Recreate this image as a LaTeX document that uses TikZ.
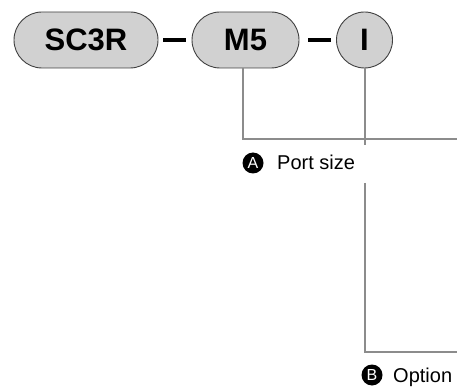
\documentclass[tikz,border=0pt]{standalone}
\usepackage{fontspec}
\setmainfont{Liberation Sans}
\begin{document}
\begin{tikzpicture}[x=1pt,y=-1pt,
  pill/.style={draw=black!75, line width=0.9pt, fill=black!18, rounded corners=28pt, minimum height=56pt, inner sep=0pt, font=\fontsize{31}{31}\selectfont\bfseries},
  ball/.style={draw=black!75, line width=0.9pt, fill=black!18, circle, minimum size=56pt, inner sep=0pt, font=\fontsize{31}{31}\selectfont\bfseries},
  dashbar/.style={line width=4pt, black},
  lead/.style={draw=black!45, line width=2.2pt},
  badge/.style={circle, fill=black, text=white, minimum size=21pt, inner sep=0pt, font=\fontsize{16}{16}\selectfont},
  lbl/.style={anchor=base west, inner sep=0pt, font=\fontsize{20}{20}\selectfont}]
\useasboundingbox (0,0) rectangle (457,387);
\node[pill, minimum width=144pt] (sc) at (86,40) {SC3R};
\node[pill, minimum width=107pt] (m5) at (245.5,40) {M5};
\node[ball] (opt) at (364.5,40) {I};
\draw[dashbar] ([xshift=5pt]sc.east) -- ([xshift=-6pt]m5.west);
\draw[dashbar] ([xshift=9pt]m5.east) -- ([xshift=-5pt]opt.west);
\coordinate (xa) at (243,0);
\coordinate (enda) at (457,139);
\coordinate (gaptop) at (365,145);
\coordinate (gapbot) at (365,183);
\coordinate (endb) at (457,352);
\draw[lead] (m5.south -| xa) |- (enda);
\draw[lead] (opt.south -| gaptop) -- (gaptop);
\draw[lead] (gapbot) |- (endb);
\node[badge] (ba) at (253,163) {A};
\node[lbl] (la) at (277,170) {Port size};
\node[badge] (bb) at (372,375) {B};
\node[lbl] (lb) at (393,382) {Option};
\end{tikzpicture}
\end{document}
